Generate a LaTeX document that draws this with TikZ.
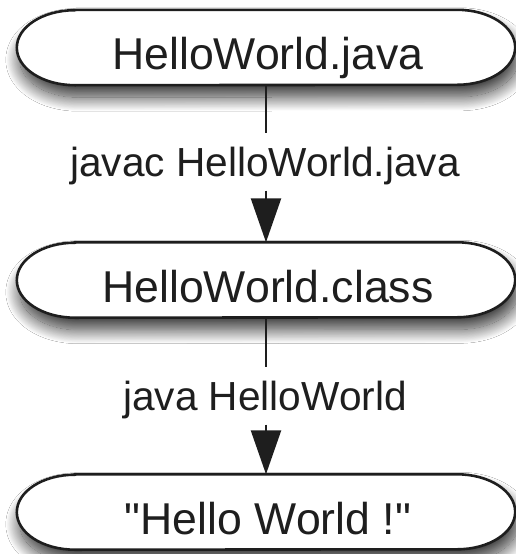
\documentclass[tikz,border=0pt]{standalone}
\usepackage{fontspec}
\setmainfont{Liberation Sans}[Ligatures=TeXOff]
\usetikzlibrary{arrows.meta,shadows.blur}
\definecolor{ink}{HTML}{1E1E1E}
\tikzset{
  box/.style={draw=none,inner sep=0pt,minimum width=498pt,minimum height=75pt},
  outline/.style={draw=ink,line width=2.6pt,fill=white,
    blur shadow={shadow xshift=3pt,shadow yshift=-12pt,shadow blur radius=14pt,shadow blur steps=24,shadow opacity=80}},
  nodetext/.style={text=ink,inner sep=0pt,font=\fontsize{44.6pt}{50pt}\selectfont},
  steplabel/.style={text=ink,fill=white,inner xsep=3pt,inner ysep=6pt,font=\fontsize{40.6pt}{46pt}\selectfont},
  conn/.style={draw=ink,line width=2.4pt},
  arr/.style={conn,-{Triangle[length=44pt,width=30pt]}}
}
\newcommand\mystadium[3]{%
  \node[box] (#1) at #2 {};
  \path[outline] ([xshift=58pt]#1.north west) -- ([xshift=-58pt]#1.north east)
    arc[start angle=90,end angle=-90,x radius=58pt,y radius=37.5pt]
    -- ([xshift=58pt]#1.south west)
    arc[start angle=270,end angle=90,x radius=58pt,y radius=37.5pt] -- cycle;
  \node[nodetext,anchor=base] (#1t) at ([xshift=2pt,yshift=-22pt]#1.center) {#3};
}
\begin{document}
\begin{tikzpicture}
\useasboundingbox[fill=white] (0pt,0pt) rectangle (516pt,-554pt);
\mystadium{n1}{(266pt,-47.5pt)}{HelloWorld.java}
\mystadium{n2}{(266pt,-280pt)}{HelloWorld.class}
\mystadium{n3}{(266pt,-512pt)}{"Hello World !"}
\node[steplabel,anchor=base] (l1) at (265pt,-176pt) {javac HelloWorld.java};
\node[steplabel,anchor=base] (l2) at (265pt,-410pt) {java HelloWorld};
\draw[conn,shorten >=7pt] (n1.south) -- (n1.south |- l1.north);
\draw[arr] (n2.north |- l1.south) -- (n2.north);
\draw[conn,shorten >=7pt] (n2.south) -- (n2.south |- l2.north);
\draw[arr] (n3.north |- l2.south) -- (n3.north);
\end{tikzpicture}
\end{document}
